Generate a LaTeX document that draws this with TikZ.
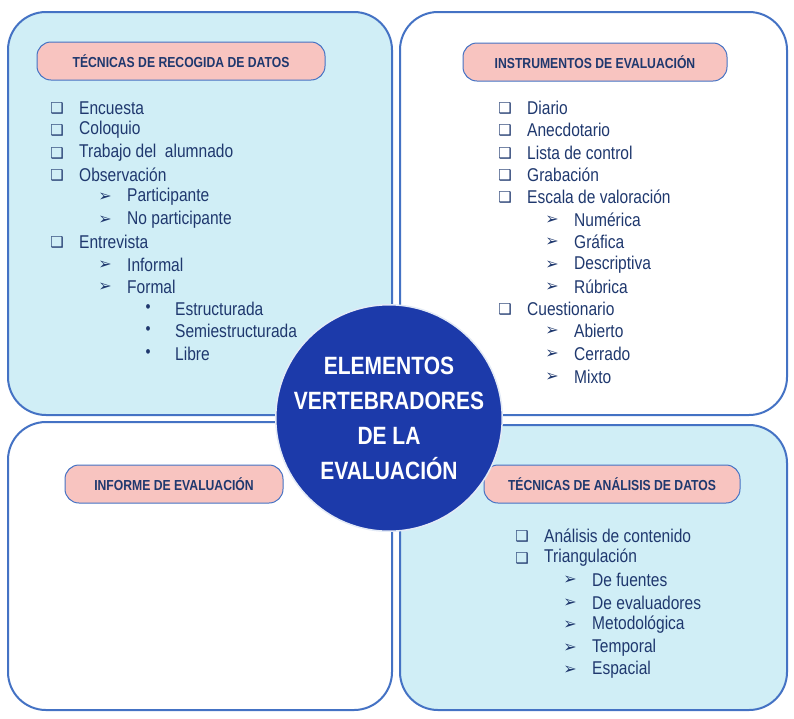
\documentclass[tikz,border=0pt]{standalone}
\usepackage{fontspec}
\setmainfont[FakeStretch=0.84]{Liberation Sans}
\newfontfamily\symfont{DejaVu Sans}
\definecolor{boxblue}{RGB}{68,114,196}
\definecolor{lightfill}{RGB}{208,238,246}
\definecolor{pillfill}{RGB}{248,196,192}
\definecolor{txtblue}{RGB}{31,56,110}
\definecolor{circfill}{RGB}{28,58,170}
\tikzset{
  quad/.style={draw=boxblue, line width=2pt, rounded corners=38pt},
  pill/.style={draw=boxblue, line width=1pt, fill=pillfill, rounded corners=14pt,
    minimum height=38pt, font=\bfseries\fontsize{14.5}{16}\selectfont, text=txtblue},
  item/.style={anchor=west, inner sep=0pt, font=\fontsize{18.5}{20}\selectfont, text=txtblue},
  bulletmark/.style={anchor=center, inner sep=0pt, text=txtblue}
}
\newcommand{\sqitem}[4]{\node[bulletmark, font=\symfont\fontsize{15}{15}\selectfont] (#1m) at (#2,#3) {❑};
  \node[item] (#1) at (#2+22,#3) {#4};}
\newcommand{\aritem}[4]{\node[bulletmark, font=\symfont\fontsize{16}{16}\selectfont] (#1m) at (#2,#3) {➢};
  \node[item] (#1) at (#2+22,#3) {#4};}
\newcommand{\dotitem}[4]{\node[bulletmark, font=\fontsize{17}{17}\selectfont] (#1m) at (#2,#3) {•};
  \node[item] (#1) at (#2+27,#3) {#4};}
\begin{document}
\begin{tikzpicture}[x=1pt,y=-1pt]
\useasboundingbox (0,0) rectangle (794,718);

% four quadrants
\draw[quad, fill=lightfill] (8,12) rectangle (392,415);
\draw[quad, fill=white] (400,12) rectangle (787,415);
\draw[quad, fill=white] (8,422) rectangle (392,710);
\draw[quad, fill=lightfill] (400,425) rectangle (787,710);

% headings
\node[pill, minimum width=288pt] (recogida) at (181,61) {TÉCNICAS DE RECOGIDA DE DATOS};
\node[pill, minimum width=264pt] (instrumentos) at (595,62) {INSTRUMENTOS DE EVALUACIÓN};
\node[pill, minimum width=218pt] (informe) at (174,484) {INFORME DE EVALUACIÓN};
\node[pill, minimum width=256pt] (analisis) at (612,484) {TÉCNICAS DE ANÁLISIS DE DATOS};

% tecnicas de recogida
\sqitem{encuesta}{57}{108}{Encuesta}
\sqitem{coloquio}{57}{130}{Coloquio}
\sqitem{trabajo}{57}{153}{Trabajo del\ \ alumnado}
\sqitem{observacion}{57}{175}{Observación}
\aritem{participante}{105}{197}{Participante}
\aritem{noparticipante}{105}{220}{No participante}
\sqitem{entrevista}{57}{242}{Entrevista}
\aritem{informal}{105}{265}{Informal}
\aritem{formal}{105}{287}{Formal}
\dotitem{estructurada}{148}{309}{Estructurada}
\dotitem{semiestructurada}{148}{331}{Semiestructurada}
\dotitem{libre}{148}{354}{Libre}

% instrumentos
\sqitem{diario}{505}{108}{Diario}
\sqitem{anecdotario}{505}{130}{Anecdotario}
\sqitem{lista}{505}{153}{Lista de control}
\sqitem{grabacion}{505}{175}{Grabación}
\sqitem{escala}{505}{197}{Escala de valoración}
\aritem{numerica}{552}{220}{Numérica}
\aritem{grafica}{552}{242}{Gráfica}
\aritem{descriptiva}{552}{265}{Descriptiva}
\aritem{rubrica}{552}{287}{Rúbrica}
\sqitem{cuestionario}{505}{309}{Cuestionario}
\aritem{abierto}{552}{331}{Abierto}
\aritem{cerrado}{552}{354}{Cerrado}
\aritem{mixto}{552}{377}{Mixto}

% analisis
\sqitem{contenido}{522}{536}{Análisis de contenido}
\sqitem{triangulacion}{522}{558}{Triangulación}
\aritem{fuentes}{570}{580}{De fuentes}
\aritem{evaluadores}{570}{603}{De evaluadores}
\aritem{metodologica}{570}{625}{Metodológica}
\aritem{temporal}{570}{648}{Temporal}
\aritem{espacial}{570}{670}{Espacial}

% centre
\node[circle, draw=white!85!boxblue, line width=1.5pt, fill=circfill, minimum size=208pt,
  inner sep=0pt, text=white, align=center, font=\bfseries\fontsize{25}{35}\selectfont] (centro) at (389,418)
  {ELEMENTOS\\VERTEBRADORES\\DE LA\\EVALUACIÓN};
\end{tikzpicture}
\end{document}
